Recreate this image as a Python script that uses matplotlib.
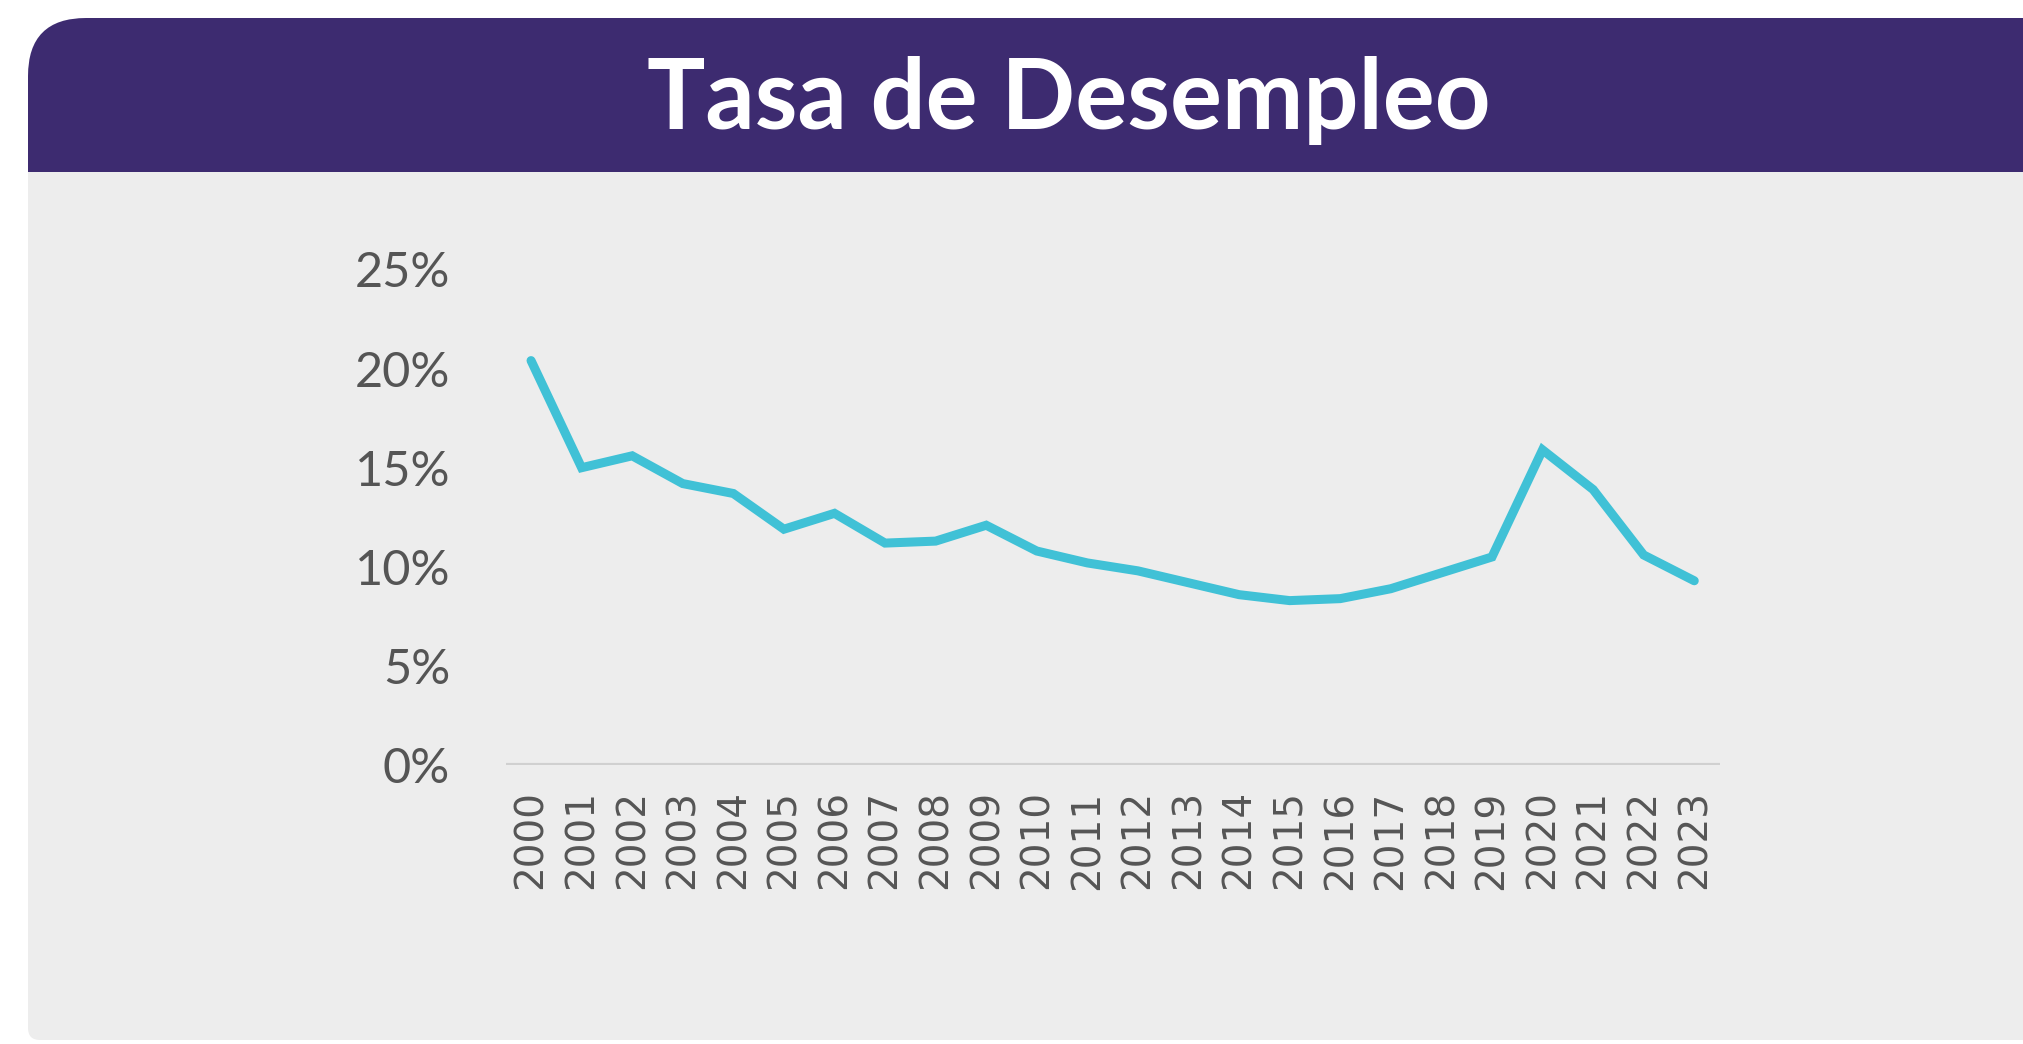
import matplotlib
matplotlib.use("Agg")
import matplotlib.pyplot as plt
from matplotlib.patches import FancyBboxPatch, Rectangle
from matplotlib.ticker import FuncFormatter

# data
years = [str(y) for y in range(2000, 2024)]
unemployment = [20.4, 15.0, 15.6, 14.2, 13.7, 11.9, 12.7, 11.2, 11.3, 12.1,
                10.8, 10.2, 9.8, 9.2, 8.6, 8.3, 8.4, 8.9, 9.7, 10.5,
                15.9, 13.9, 10.6, 9.3]
y_ticks = [0, 5, 10, 15, 20, 25]
title = "Tasa de Desempleo"

W, H = 2023, 1044
fig = plt.figure(figsize=(W / 100, H / 100), dpi=100)
fig.patch.set_facecolor("white")

# background card: purple header + grey body, drawn in pixel units
bg = fig.add_axes([0, 0, 1, 1])
bg.set_xlim(0, W)
bg.set_ylim(H, 0)
bg.axis("off")
bg.add_patch(FancyBboxPatch((28, 18), 2060, 260,
                            boxstyle="round,pad=0,rounding_size=58",
                            fc="#3D2B70", ec="none"))
bg.add_patch(FancyBboxPatch((28, 172), 2060, 868,
                            boxstyle="round,pad=0,rounding_size=12",
                            fc="#EDEDED", ec="none"))
bg.add_patch(Rectangle((28, 172), 2060, 150, fc="#EDEDED", ec="none"))
bg.text(1069, 129, title, color="white", fontsize=70, fontfamily="Lato",
        fontweight="bold", ha="center", va="baseline")

# the line chart
ax = fig.add_axes([0.25, 0.267, 0.60, 0.475])
ax.set_facecolor("none")
x = list(range(len(years)))
ax.plot(x, unemployment, color="#40C1D6", lw=6.5,
        solid_capstyle="round", solid_joinstyle="miter")
ax.axhline(0, color="#D0D0D0", lw=3, zorder=0)

ax.set_xlim(-0.5, len(years) - 0.5)
ax.set_ylim(0, 25)
ax.set_yticks(y_ticks)
ax.yaxis.set_major_formatter(FuncFormatter(lambda v, p: f"{v:.0f}%"))
ax.set_xticks(x)
ax.set_xticklabels(years, rotation=90, fontsize=28, color="#555555",
                   fontfamily="DejaVu Sans")
for lab in ax.get_yticklabels():
    lab.set_fontfamily("Lato")
    lab.set_fontsize(35)
    lab.set_color("#555555")
ax.tick_params(axis="both", length=0)
ax.tick_params(axis="y", pad=40)
ax.tick_params(axis="x", pad=18)
for s in ax.spines.values():
    s.set_visible(False)

fig.savefig("out.png", dpi=100, facecolor=fig.get_facecolor())
